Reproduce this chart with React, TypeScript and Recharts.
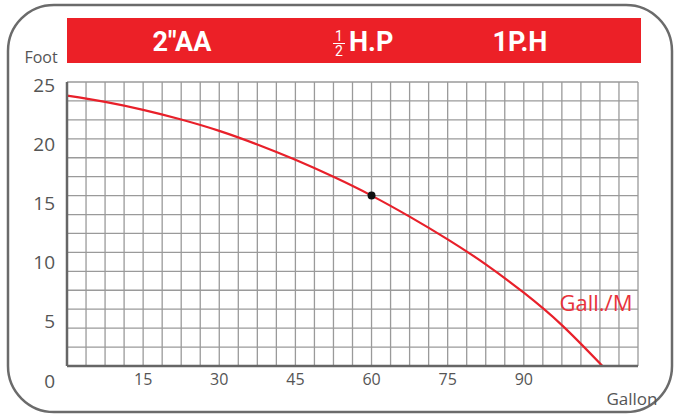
import {
  CartesianGrid,
  ComposedChart,
  Line,
  Scatter,
  XAxis,
  YAxis,
} from 'recharts';

// pump curve: flow (gallon / min) vs head (foot)
const gallons = [0, 7.5, 15, 22.5, 30, 37.5, 45, 52.5, 60, 67.5, 75, 82.5, 90, 97.5, 105.5];
const feet = [23.8, 23.25, 22.55, 21.7, 20.7, 19.5, 18.15, 16.65, 15.0, 13.15, 11.15, 8.95, 6.45, 3.6, 0];
const dutyGallon = [60];
const dutyFoot = [15];

const xTicks = [15, 30, 45, 60, 75, 90];
const yTicks = [0, 5, 10, 15, 20, 25];
const header = ['2″AA', 'H.P', '1P.H'];

// graph paper: 30 columns x 15 rows
const xMax = 112.5;
const yMax = 25;
const xGrid = Array.from({ length: 31 }, (_, i) => (i * xMax) / 30);
const yGrid = Array.from({ length: 16 }, (_, i) => (i * yMax) / 15);

const curve = gallons.map((g, i) => ({ gallon: g, foot: feet[i] }));
const duty = dutyGallon.map((g, i) => ({ gallon: g, foot: dutyFoot[i] }));

const RED = '#ec2027';
const GREY = '#555';
const FONT = '"Open Sans", "DejaVu Sans", sans-serif';
const NARROW = '"Liberation Sans Narrow", "Roboto", sans-serif';

if (typeof document !== 'undefined') document.body.style.margin = '0';

function Frame() {
  return (
    <svg width={676} height={417} style={{ position: 'absolute', left: 0, top: 0 }}>
      <rect x={8} y={5} width={664} height={407} rx={46} fill="#fff" stroke="#6b6b6b" strokeWidth={2.5} />
      <rect x={67} y={18} width={574} height={45} fill={RED} />
      <g fill="#fff" fontFamily={NARROW} fontWeight="bold" fontSize={27}>
        <text x={182} y={51} textAnchor="middle">{header[0]}</text>
        <text x={349} y={51}>{header[1]}</text>
        <text x={520} y={51} textAnchor="middle">{header[2]}</text>
      </g>
      <g fill="#fff" fontFamily={NARROW} fontSize={14} textAnchor="middle">
        <text x={339} y={41}>1</text>
        <line x1={333} x2={345} y1={43.5} y2={43.5} stroke="#fff" strokeWidth={1} />
        <text x={339} y={56}>2</text>
      </g>
      <text x={41} y={63} textAnchor="middle" fontFamily={FONT} fontSize={16} fill={GREY}>Foot</text>
      <text x={632} y={405} textAnchor="middle" fontFamily={FONT} fontSize={17} fill={GREY}>Gallon</text>
    </svg>
  );
}

export default function App() {
  return (
    <div style={{ position: 'relative', width: 676, height: 417 }}>
      <Frame />
      <div style={{ position: 'absolute', left: 0, top: 0 }}>
        <ComposedChart width={676} height={417} margin={{ top: 82, right: 38, bottom: 21, left: 7 }}>
          <XAxis
            xAxisId="grid"
            type="number"
            dataKey="gallon"
            orientation="top"
            height={0}
            domain={[0, xMax]}
            ticks={xGrid}
            interval={0}
            hide
          />
          <YAxis
            yAxisId="grid"
            type="number"
            orientation="right"
            width={0}
            domain={[0, yMax]}
            ticks={yGrid}
            interval={0}
            hide
          />
          <CartesianGrid xAxisId="grid" yAxisId="grid" stroke="#9a9a9a" strokeWidth={1.3} />
          <XAxis
            xAxisId="label"
            type="number"
            dataKey="gallon"
            domain={[0, xMax]}
            allowDataOverflow
            ticks={xTicks}
            interval={0}
            height={30}
            tickLine={false}
            axisLine={{ stroke: '#666', strokeWidth: 2.5 }}
            tick={{ fill: GREY, fontSize: 16, fontFamily: FONT }}
          />
          <YAxis
            yAxisId="label"
            type="number"
            domain={[1.25, 25.25]}
            allowDataOverflow
            ticks={yTicks}
            interval={0}
            width={60}
            tickLine={false}
            tickMargin={6}
            axisLine={{ stroke: '#666', strokeWidth: 2.5 }}
            tick={{ fill: GREY, fontSize: 19, fontFamily: FONT }}
          />
          <Line
            xAxisId="grid"
            yAxisId="grid"
            data={curve}
            dataKey="foot"
            type="natural"
            stroke="#e8202a"
            strokeWidth={2.2}
            dot={false}
            isAnimationActive={false}
          />
          <Scatter
            xAxisId="label"
            yAxisId="grid"
            data={duty}
            dataKey="foot"
            fill="#111"
            shape={(p: any) => <circle cx={p.cx} cy={p.cy} r={4} fill="#111" />}
            isAnimationActive={false}
          />
        </ComposedChart>
      </div>
      <svg width={676} height={417} style={{ position: 'absolute', left: 0, top: 0, pointerEvents: 'none' }}>
        <text x={596} y={311} textAnchor="middle" fontFamily={FONT} fontSize={22} fill="#e8323b">Gall./M</text>
      </svg>
    </div>
  );
}
